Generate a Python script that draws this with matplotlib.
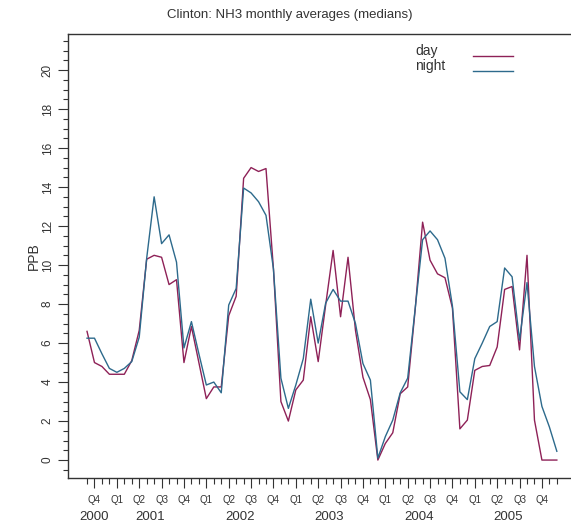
import numpy as np
import pandas as pd
import matplotlib
matplotlib.use("Agg")
import matplotlib.pyplot as plt
import matplotlib.transforms as mtransforms

plt.rcParams['font.family'] = ['Liberation Sans', 'DejaVu Sans']

#------------ Data (monthly medians, Oct 2000 - Jan 2006) ----------------------

months = pd.period_range('2000-10', '2006-01', freq='M')

day = [6.6, 5.0, 4.8, 4.4, 4.4, 4.4, 5.1, 6.65, 10.3, 10.5, 10.4, 9.0,
       9.25, 5.0, 6.85, 5.0, 3.15, 3.75, 3.75, 7.4, 8.4, 14.45, 15.0, 14.8,
       14.95, 9.8, 3.0, 2.0, 3.6, 4.1, 7.35, 5.05, 7.95, 10.75, 7.35, 10.4,
       6.65, 4.25, 3.1, 0.0, 0.85, 1.4, 3.4, 3.75, 7.7, 12.2, 10.25, 9.55,
       9.35, 7.8, 1.6, 2.05, 4.6, 4.8, 4.85, 5.8, 8.75, 8.9, 5.65, 10.5,
       2.05, 0.0, 0.0, 0.0]

night = [6.25, 6.25, 5.45, 4.7, 4.5, 4.7, 5.05, 6.3, 10.35, 13.5, 11.1, 11.55,
         10.15, 5.75, 7.1, 5.45, 3.85, 4.0, 3.45, 7.95, 8.8, 13.95, 13.7, 13.25,
         12.55, 9.8, 4.2, 2.65, 3.85, 5.2, 8.25, 6.0, 8.05, 8.75, 8.15, 8.15,
         7.0, 4.95, 4.1, 0.1, 1.2, 2.05, 3.45, 4.2, 7.75, 11.3, 11.75, 11.3,
         10.35, 7.9, 3.5, 3.1, 5.2, 6.0, 6.85, 7.1, 9.85, 9.4, 6.15, 9.1,
         4.8, 2.75, 1.7, 0.45]

series_names = ['day', 'night']
series_colors = ['#8e2157', '#2d6a8c']

#------------ Figure -----------------------------------------------------------

x = np.arange(len(months))
txt_col = '#333333'

fig = plt.figure(figsize=(5.71, 5.26), dpi=100)
ax = fig.add_axes([68/571, 1 - 478/526, 503/571, 444/526])

for vals, col in zip([day, night], series_colors):
    ax.plot(x, vals, color=col, lw=1.0)

ax.set_xlim(-2.55, 64.9)
ax.set_ylim(-0.92, 21.85)

# spines : no right spine
ax.spines['right'].set_visible(False)
for s in ['left', 'top', 'bottom']:
    ax.spines[s].set_color(txt_col)
    ax.spines[s].set_linewidth(1.0)

# y axis : major every 2, minor every 0.5, labels rotated
ax.set_yticks(np.arange(0, 21, 2))
ax.set_yticks(np.arange(-0.5, 21.6, 0.5), minor=True)
ax.tick_params(axis='y', which='major', direction='out', length=7.2, width=0.8,
               colors=txt_col, labelsize=8.5, labelrotation=90, pad=3)
ax.tick_params(axis='y', which='minor', direction='out', length=3.6, width=0.8,
               colors=txt_col)
for lab in ax.get_yticklabels():
    lab.set_va('center')
ax.set_ylabel('PPB', fontsize=10, color=txt_col)
ax.yaxis.set_label_coords(-0.053, 0.5)

# x axis : monthly ticks, quarter labels on the middle month of each quarter
qpos = [i for i, m in enumerate(months) if m.month % 3 == 2]
qlab = ['Q%d' % months[i].quarter for i in qpos]
ax.set_xticks(qpos)
ax.set_xticklabels(qlab)
ax.set_xticks(x, minor=True)
ax.tick_params(axis='x', which='major', direction='out', length=7.2, width=0.8,
               colors=txt_col, labelsize=7, pad=5)
ax.tick_params(axis='x', which='minor', direction='out', length=4.3, width=0.8,
               colors=txt_col)

# years under the quarters
trans = mtransforms.blended_transform_factory(ax.transData, ax.transAxes)
years = sorted(set(m.year for m in months if m.year < 2006))
for yr in years:
    may = [i for i, m in enumerate(months) if m.year == yr and m.month == 5]
    xp = may[0] + 1.5 if may else qpos[0]
    ax.text(xp, -0.087, str(yr), transform=trans, ha='center', va='center',
            fontsize=9.5, color=txt_col)

# legend : text on the left, line on the right
for k, (name, col) in enumerate(zip(series_names, series_colors)):
    yl = 0.9505 - k*0.033
    ax.text(0.690, yl + 0.002, name, transform=ax.transAxes, ha='left',
            va='baseline', fontsize=10, color=txt_col)
    ax.plot([0.805, 0.885], [yl, yl], transform=ax.transAxes, color=col, lw=1.0)

fig.text(0.508, 0.972, 'Clinton: NH3 monthly averages (medians)', ha='center',
         va='center', fontsize=9.5, color=txt_col)

fig.savefig('out.png', dpi=100)
plt.close()
